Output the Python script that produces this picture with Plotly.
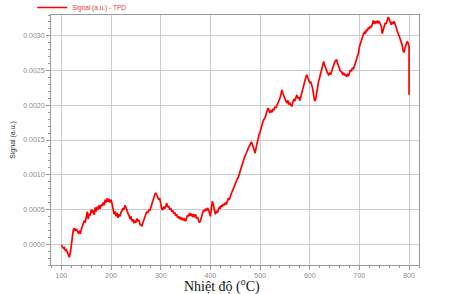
import plotly.graph_objects as go

temperature = [100,102,104,106,108,110,112,114,116,118,120,122,124,126,128,130,132,134,136,138,
140,142,144,146,148,150,152,154,156,158,160,162,164,166,168,170,172,174,176,178,
180,182,184,186,188,190,192,194,196,198,200,202,204,206,208,210,212,214,216,218,
220,222,224,226,228,230,232,234,236,238,240,242,244,246,248,250,252,254,256,258,
260,262,264,266,268,270,272,274,276,278,280,282,284,286,288,290,292,294,296,298,
300,302,304,306,308,310,312,314,316,318,320,322,324,326,328,330,332,334,336,338,
340,342,344,346,348,350,352,354,356,358,360,362,364,366,368,370,372,374,376,378,
380,382,384,386,388,390,392,394,396,398,400,402,404,406,408,410,412,414,416,418,
420,422,424,426,428,430,432,434,436,438,440,442,444,446,448,450,452,454,456,458,
460,462,464,466,468,470,472,474,476,478,480,482,484,486,488,490,492,494,496,498,
500,502,504,506,508,510,512,514,516,518,520,522,524,526,528,530,532,534,536,538,
540,542,544,546,548,550,552,554,556,558,560,562,564,566,568,570,572,574,576,578,
580,582,584,586,588,590,592,594,596,598,600,602,604,606,608,610,612,614,616,618,
620,622,624,626,628,630,632,634,636,638,640,642,644,646,648,650,652,654,656,658,
660,662,664,666,668,670,672,674,676,678,680,682,684,686,688,690,692,694,696,698,
700,702,704,706,708,710,712,714,716,718,720,722,724,726,728,730,732,734,736,738,
740,742,744,746,748,750,752,754,756,758,760,762,764,766,768,770,772,774,776,778,
780,782,784,786,788,790,792,794,796,798,800,800]

signal = [-0.00001,-0.00004,-0.00006,-0.00005,-0.00009,-0.00008,-0.00012,-0.00017,-0.00019,-0.00012,
0.00002,0.00012,0.00021,0.00023,0.00019,0.00022,0.00019,0.00016,0.00018,0.00015,
0.00021,0.00026,0.00029,0.00034,0.00031,0.00040,0.00047,0.00036,0.00044,0.00041,
0.00050,0.00045,0.00049,0.00042,0.00053,0.00047,0.00054,0.00050,0.00056,0.00051,
0.00057,0.00055,0.00060,0.00056,0.00064,0.00060,0.00066,0.00061,0.00065,0.00060,
0.00064,0.00058,0.00049,0.00043,0.00047,0.00040,0.00045,0.00038,0.00043,0.00040,
0.00046,0.00048,0.00052,0.00050,0.00056,0.00053,0.00049,0.00044,0.00042,0.00036,
0.00040,0.00033,0.00036,0.00030,0.00034,0.00031,0.00037,0.00033,0.00035,0.00029,
0.00028,0.00026,0.00031,0.00034,0.00039,0.00043,0.00047,0.00045,0.00050,0.00048,
0.00053,0.00057,0.00062,0.00066,0.00071,0.00074,0.00070,0.00068,0.00064,0.00066,
0.00057,0.00051,0.00049,0.00054,0.00051,0.00057,0.00059,0.00053,0.00055,0.00050,
0.00052,0.00047,0.00049,0.00044,0.00046,0.00041,0.00043,0.00038,0.00040,0.00036,
0.00039,0.00035,0.00038,0.00034,0.00036,0.00033,0.00038,0.00042,0.00040,0.00045,
0.00041,0.00044,0.00039,0.00042,0.00040,0.00043,0.00037,0.00039,0.00034,0.00031,
0.00034,0.00039,0.00045,0.00049,0.00047,0.00051,0.00048,0.00052,0.00050,0.00046,
0.00040,0.00052,0.00062,0.00056,0.00047,0.00043,0.00048,0.00045,0.00050,0.00053,
0.00051,0.00056,0.00054,0.00058,0.00056,0.00060,0.00057,0.00062,0.00066,0.00064,
0.00071,0.00073,0.00076,0.00080,0.00084,0.00087,0.00090,0.00094,0.00096,0.00101,
0.00103,0.00108,0.00114,0.00119,0.00124,0.00127,0.00131,0.00134,0.00138,0.00141,
0.00143,0.00147,0.00145,0.00140,0.00134,0.00131,0.00139,0.00147,0.00153,0.00158,
0.00162,0.00168,0.00174,0.00177,0.00180,0.00182,0.00187,0.00192,0.00196,0.00193,
0.00189,0.00192,0.00190,0.00195,0.00193,0.00198,0.00196,0.00200,0.00203,0.00206,
0.00210,0.00216,0.00222,0.00217,0.00212,0.00208,0.00206,0.00204,0.00207,0.00201,
0.00203,0.00200,0.00199,0.00204,0.00209,0.00206,0.00213,0.00215,0.00210,0.00212,
0.00207,0.00213,0.00219,0.00224,0.00229,0.00235,0.00240,0.00244,0.00239,0.00236,
0.00232,0.00234,0.00230,0.00224,0.00214,0.00206,0.00209,0.00220,0.00229,0.00235,
0.00240,0.00246,0.00253,0.00260,0.00263,0.00258,0.00253,0.00249,0.00246,0.00244,
0.00247,0.00244,0.00249,0.00254,0.00259,0.00262,0.00264,0.00266,0.00260,0.00256,
0.00252,0.00249,0.00248,0.00245,0.00247,0.00243,0.00245,0.00241,0.00244,0.00242,
0.00247,0.00251,0.00249,0.00254,0.00252,0.00257,0.00259,0.00264,0.00270,0.00275,
0.00284,0.00290,0.00295,0.00298,0.00302,0.00305,0.00303,0.00309,0.00307,0.00312,
0.00310,0.00314,0.00312,0.00318,0.00322,0.00317,0.00321,0.00318,0.00322,0.00319,
0.00321,0.00317,0.00314,0.00303,0.00308,0.00315,0.00319,0.00317,0.00322,0.00327,
0.00324,0.00318,0.00316,0.00320,0.00317,0.00321,0.00316,0.00312,0.00307,0.00303,
0.00300,0.00296,0.00292,0.00287,0.00279,0.00276,0.00283,0.00288,0.00292,0.00290,
0.00284,0.00215]

x_ticks = [100, 200, 300, 400, 500, 600, 700, 800]
y_ticks = [0.0000, 0.0005, 0.0010, 0.0015, 0.0020, 0.0025, 0.0030]
y_tick_labels = ["0.0000", "0.0005", "0.0010", "0.0015", "0.0020", "0.0025", "0.0030"]

fig = go.Figure()
fig.add_trace(go.Scatter(
    x=temperature, y=signal, mode="lines",
    name="Signal (a.u.) - TPD",
    line=dict(color="#ff0000", width=1.7),
))

axis_common = dict(
    showline=True, linecolor="#9a9a9a", linewidth=1, mirror=True,
    showgrid=True, gridcolor="#cccccc", gridwidth=1,
    zeroline=False, ticks="outside", tickcolor="#9a9a9a", ticklen=4,
    tickfont=dict(family="Liberation Sans, Arial, sans-serif", size=7, color="#8c8c8c"),
)

fig.update_layout(
    width=454, height=294,
    margin=dict(l=51, r=35, t=15, b=29, autoexpand=False),
    paper_bgcolor="white", plot_bgcolor="white",
    showlegend=True,
    legend=dict(
        x=-0.051, y=1.088, xanchor="left", yanchor="top",
        orientation="h",
        font=dict(family="Liberation Sans, Arial, sans-serif", size=6.5, color="#e83a3a"),
        bgcolor="rgba(0,0,0,0)", borderwidth=0,
        itemwidth=30, tracegroupgap=0,
    ),
    xaxis=dict(
        range=[79, 820], tickvals=x_ticks,
        minor=dict(dtick=20, tick0=0, ticks="outside", ticklen=2, tickcolor="#9a9a9a", showgrid=False),
        **axis_common,
    ),
    yaxis=dict(
        range=[-0.0003, 0.0033], tickvals=y_ticks, ticktext=y_tick_labels,
        minor=dict(dtick=0.0001, tick0=0, ticks="outside", ticklen=2, tickcolor="#9a9a9a", showgrid=False),
        title=dict(text="Signal (a.u.)", standoff=6,
                   font=dict(family="Liberation Sans, Arial, sans-serif", size=7, color="#333333")),
        **axis_common,
    ),
    annotations=[dict(
        text="Nhiệt độ (<sup>o</sup>C)", xref="paper", yref="paper",
        x=0.465, y=0, yshift=-9, xanchor="center", yanchor="top", showarrow=False,
        font=dict(family="Liberation Serif, Times New Roman, serif", size=14, color="#111111"),
    )],
)

fig.write_html("out.html")
